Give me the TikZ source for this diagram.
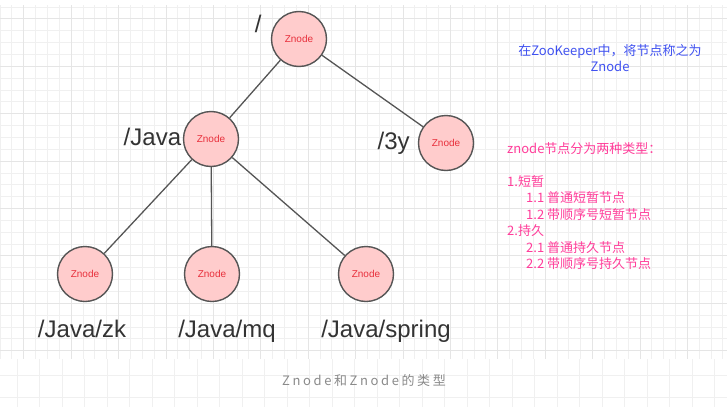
\documentclass[tikz,border=0pt]{standalone}
\usepackage{fontspec}
\setmainfont{Liberation Sans}
\newfontfamily\cjk{Noto Sans CJK SC}
\newfontfamily\cjkwide[LetterSpace=20]{Noto Sans CJK SC}
\usetikzlibrary{positioning}
\definecolor{nodefill}{HTML}{FFCCCC}
\definecolor{nodeedge}{HTML}{555555}
\definecolor{znred}{HTML}{E8303C}
\definecolor{pathgray}{HTML}{333333}
\definecolor{noteblue}{HTML}{3F51F0}
\definecolor{notepink}{HTML}{FF3D9A}
\definecolor{capgray}{HTML}{8A8A8A}
\tikzset{
    znode/.style = {circle, draw=nodeedge, line width=1.4pt, fill=nodefill, minimum size=55pt, inner sep=0pt, text=znred, font=\fontsize{10}{12}\selectfont},
    pathlbl/.style = {text=pathgray, font=\fontsize{24}{28}\selectfont, inner sep=0pt, text height=17pt, text depth=5pt},
    edgen/.style = {draw=nodeedge, line width=1.3pt},
    minorgrid/.style = {draw=black!6, line width=0.8pt},
    majorgrid/.style = {draw=black!10, line width=0.8pt},
    notetxt/.style = {font=\cjk\fontsize{13}{16.5}\selectfont, inner sep=0pt},
}

\begin{document}
\begin{tikzpicture}[x=1pt,y=-1pt]
\useasboundingbox (0,0) rectangle (727,407);
\fill[white] (0,0) rectangle (727,407);
% background grid
\foreach \i in {0,...,61} \draw[minorgrid] ({\i*11.85},5) -- ({\i*11.85},359);
\foreach \j in {0,...,29} \draw[minorgrid] (0,{7+\j*11.85}) -- (727,{7+\j*11.85});
\foreach \i in {0,...,14} \draw[majorgrid] ({23.7+\i*47.4},5) -- ({23.7+\i*47.4},359);
\foreach \j in {0,...,7} \draw[majorgrid] (0,{18.85+\j*47.4}) -- (727,{18.85+\j*47.4});
\foreach \i in {0,...,31} \draw[minorgrid] ({17+\i*22.5},359) -- ({17+\i*22.5},407);
\draw[minorgrid] (0,375) -- (727,375) (0,397.5) -- (727,397.5);
%
\node[znode] at (299, 39) (root) {Znode};
\node[znode] at (211,139) (java) {Znode};
\node[znode] at (446,143) (y3) {Znode};
\node[znode] at ( 85,274) (zk) {Znode};
\node[znode] at (212,274) (mq) {Znode};
\node[znode] at (366,274) (spring) {Znode};
%
\node[pathlbl, left=9pt of root, yshift=13pt] (rootlbl) {/};
\node[pathlbl, left=1.5pt of java] (javalbl) {/Java};
\node[pathlbl, left=8pt of y3] (y3lbl) {/3y};
\node[pathlbl, below=18pt of zk, xshift=-3pt] (zklbl) {/Java/zk};
\node[pathlbl, below=18pt of mq, xshift=15pt] (mqlbl) {/Java/mq};
\node[pathlbl, below=18pt of spring, xshift=20pt] (springlbl) {/Java/spring};
%
\draw[edgen] (root) -- (java);
\draw[edgen] (root) -- (y3);
\draw[edgen] (java) -- (zk);
\draw[edgen] (java) -- (mq);
\draw[edgen] (java) -- (spring);
%
\node[notetxt, text=noteblue, align=center] at (610,58) (namenote) {在ZooKeeper中，将节点称之为\\Znode};
\node[notetxt, text=notepink, align=left, anchor=north west] at (507,142) (typenote)
  {znode节点分为两种类型：\\[16.5pt]
   1.短暂\\
   \hspace*{19pt}1.1 普通短暂节点\\
   \hspace*{19pt}1.2 带顺序号短暂节点\\
   2.持久\\
   \hspace*{19pt}2.1 普通持久节点\\
   \hspace*{19pt}2.2 带顺序号持久节点};
\node[text=capgray, font=\cjkwide\fontsize{13}{16}\selectfont, inner sep=0pt] at (364,381) (caption) {Znode和Znode的类型};
\end{tikzpicture}
\end{document}
